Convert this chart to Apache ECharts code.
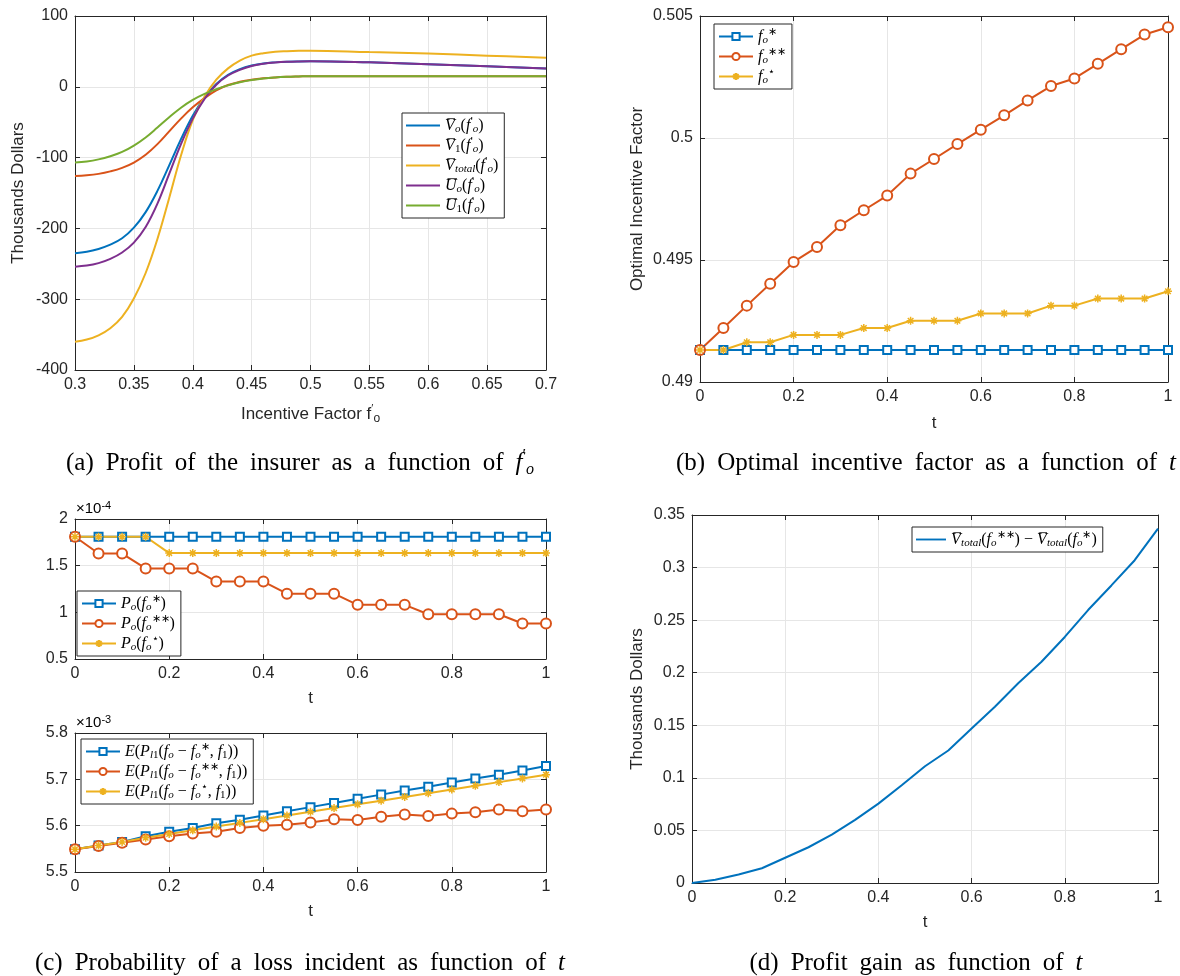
<!DOCTYPE html>
<html><head><meta charset="utf-8">
<script src="https://cdn.jsdelivr.net/npm/echarts@6/dist/echarts.min.js"></script>
<style>html,body{margin:0;padding:0;background:#fff}#c{width:1180px;height:976px}</style>
</head><body><div id="c"></div><script>
// ---------- DATA ----------
// (a) profit vs incentive factor f'_o (thousands of dollars)
const fPrime = [0.30,0.31,0.32,0.33,0.34,0.35,0.36,0.37,0.38,0.39,0.40,0.41,0.42,0.43,0.44,0.45,0.46,0.47,0.48,0.49,0.50,0.55,0.60,0.65,0.70];
const Vo     = [-235,-233,-229,-223,-214,-199,-177,-147,-111,-74,-41,-15,4,17,25,30,33,34.5,35.5,35.9,36,34.5,32,29,26];
const V1     = [-126,-125,-123,-119.5,-114.5,-107,-96,-81,-63,-45,-29,-16,-5,2.5,7,10,12,13.3,14.1,14.6,15,15,15,15,15];
const Vtotal = [-360,-357,-351,-341,-325,-299,-263,-215,-157,-97,-47,-14,10,26,37,44,47.5,49.5,50.3,50.8,51,49,47,44,41];
const Uo     = [-254,-252.5,-249,-243,-234,-220,-198,-165,-123,-81,-45,-17,3,16,24,29.5,32.5,34.3,35.3,35.8,36,34.5,32,29,26];
const U1     = [-107,-105.5,-102.5,-98,-92,-83,-71.5,-57.5,-43,-29.5,-18.5,-10,-3.5,2,6.5,9.5,11.8,13.2,14.1,14.6,15,15,15,15,15];
// shared t grid
const tVals = [0,0.05,0.1,0.15,0.2,0.25,0.3,0.35,0.4,0.45,0.5,0.55,0.6,0.65,0.7,0.75,0.8,0.85,0.9,0.95,1];
// (b) optimal incentive factor
const fStar     = [0.49131,0.49131,0.49131,0.49131,0.49131,0.49131,0.49131,0.49131,0.49131,0.49131,0.49131,0.49131,0.49131,0.49131,0.49131,0.49131,0.49131,0.49131,0.49131,0.49131,0.49131];
const fStarStar = [0.49131,0.49221,0.49313,0.49403,0.49492,0.49553,0.49642,0.49704,0.49764,0.49854,0.49914,0.49975,0.50034,0.50093,0.50154,0.50213,0.50244,0.50304,0.50364,0.50424,0.50454];
const fStarBig  = [0.49131,0.49131,0.49163,0.49163,0.49193,0.49193,0.49193,0.49221,0.49221,0.49251,0.49251,0.49251,0.49281,0.49281,0.49281,0.49313,0.49313,0.49342,0.49342,0.49342,0.49372];
// (c) top, in units of 1e-4
const PoStar     = [1.81,1.81,1.81,1.81,1.81,1.81,1.81,1.81,1.81,1.81,1.81,1.81,1.81,1.81,1.81,1.81,1.81,1.81,1.81,1.81,1.81];
const PoStarStar = [1.81,1.63,1.63,1.47,1.47,1.47,1.33,1.33,1.33,1.20,1.20,1.20,1.08,1.08,1.08,0.98,0.98,0.98,0.98,0.88,0.88];
const PoStarBig  = [1.81,1.81,1.81,1.81,1.635,1.635,1.635,1.635,1.635,1.635,1.635,1.635,1.635,1.635,1.635,1.635,1.635,1.635,1.635,1.635,1.635];
// (c) bottom, in units of 1e-3
const EStar     = [5.549,5.557,5.565,5.577,5.587,5.595,5.605,5.613,5.622,5.631,5.640,5.649,5.658,5.667,5.676,5.684,5.693,5.702,5.710,5.719,5.729];
const EStarStar = [5.549,5.556,5.563,5.570,5.577,5.583,5.587,5.595,5.600,5.602,5.607,5.614,5.612,5.619,5.624,5.621,5.626,5.629,5.635,5.631,5.635];
const EStarBig  = [5.549,5.557,5.565,5.574,5.582,5.590,5.598,5.606,5.614,5.622,5.630,5.638,5.646,5.654,5.662,5.670,5.678,5.686,5.694,5.702,5.710];
// (d) profit gain
const gain = [0,0.003,0.008,0.014,0.024,0.034,0.046,0.060,0.0755,0.093,0.111,0.126,0.147,0.1676,0.190,0.2104,0.234,0.2596,0.283,0.307,0.337];

// ---------- STYLE ----------
const C = ['#0072BD','#D95319','#EDB120','#7E2F8E','#77AC30'];
const AX = '#262626', GRIDC = '#e6e6e6';
const SANS = 'Liberation Sans, Arial, sans-serif', SERIF = 'Liberation Serif, Times New Roman, serif';
const STAR = 'path://M5,0L5,10M0,5L10,5M1.5,1.5L8.5,8.5M8.5,1.5L1.5,8.5';
const LINEICON = 'path://M0,0L32,0L32,2L0,2Z';

// overline image for V-bar / U-bar, drawn over the letter's box
const ov = document.createElement('canvas');
ov.width = 12; ov.height = 19;
(function(){ const x = ov.getContext('2d'); x.fillStyle = '#000'; x.fillRect(2.5, 0.6, 9.5, 1.2); })();

const grids = [
  {left:75, top:16, width:471, height:354},
  {left:700, top:16, width:468, height:366},
  {left:75, top:519, width:471, height:140},
  {left:75, top:733, width:471, height:139},
  {left:692, top:515, width:466, height:368}
].map(g => Object.assign({containLabel:false, outerBoundsMode:'none', show:false}, g));

const sansRich = {
  n:{fontFamily:SANS, fontSize:17, color:AX, lineHeight:22},
  p:{fontFamily:SANS, fontSize:11, color:AX, lineHeight:11, verticalAlign:'top'},
  b:{fontFamily:SANS, fontSize:12, color:AX, lineHeight:12, verticalAlign:'bottom'}
};
const mathRich = {
  i:{fontFamily:SERIF, fontStyle:'italic', fontSize:16, lineHeight:19, color:'#000'},
  v:{fontFamily:SERIF, fontStyle:'italic', fontSize:16, lineHeight:19, color:'#000', backgroundColor:{image:ov}},
  n:{fontFamily:SERIF, fontSize:16, lineHeight:19, color:'#000'},
  b:{fontFamily:SERIF, fontStyle:'italic', fontSize:11, lineHeight:10, verticalAlign:'bottom', color:'#000'},
  bn:{fontFamily:SERIF, fontSize:11, lineHeight:10, verticalAlign:'bottom', color:'#000'},
  p:{fontFamily:SERIF, fontSize:11, lineHeight:10, verticalAlign:'top', color:'#000'}
};

function xAxes(g, min, max, iv, name, gap) {
  return [{
    type:'value', gridIndex:g, min, max, interval:iv, position:'bottom',
    name: name || '', nameLocation:'middle', nameGap:gap || 30,
    nameTextStyle:{fontFamily:SANS, fontSize:17, color:AX, rich:sansRich},
    axisLine:{show:true, onZero:false, lineStyle:{color:AX, width:1}},
    axisTick:{show:true, inside:true, length:5, lineStyle:{color:AX}},
    axisLabel:{fontFamily:SANS, fontSize:16, color:AX, margin:7, showMinLabel:true, showMaxLabel:true},
    splitLine:{show:true, lineStyle:{color:GRIDC, width:1}}
  },{
    type:'value', gridIndex:g, min, max, interval:iv, position:'top',
    axisLine:{show:true, onZero:false, lineStyle:{color:AX, width:1}},
    axisTick:{show:true, inside:true, length:5, lineStyle:{color:AX}},
    axisLabel:{show:false}, splitLine:{show:false}
  }];
}
function yAxes(g, min, max, iv, name, gap) {
  return [{
    type:'value', gridIndex:g, min, max, interval:iv, position:'left',
    name: name || '', nameLocation:'middle', nameGap:gap || 40,
    nameTextStyle:{fontFamily:SANS, fontSize:17, color:AX},
    axisLine:{show:true, onZero:false, lineStyle:{color:AX, width:1}},
    axisTick:{show:true, inside:true, length:5, lineStyle:{color:AX}},
    axisLabel:{fontFamily:SANS, fontSize:16, color:AX, margin:7, showMinLabel:true, showMaxLabel:true},
    splitLine:{show:true, lineStyle:{color:GRIDC, width:1}}
  },{
    type:'value', gridIndex:g, min, max, interval:iv, position:'right',
    axisLine:{show:true, onZero:false, lineStyle:{color:AX, width:1}},
    axisTick:{show:true, inside:true, length:5, lineStyle:{color:AX}},
    axisLabel:{show:false}, splitLine:{show:false}
  }];
}

function ln(g, name, xs, ys, color, mk, extra) {
  const s = {
    type:'line', name, xAxisIndex:2*g, yAxisIndex:2*g,
    data: xs.map((x,i)=>[x, ys[i]]),
    lineStyle:{color, width:2}, itemStyle:{color},
    symbol:'none', showSymbol:false, animation:false, emphasis:{disabled:true}
  };
  if (mk === 'sq') { s.symbol='emptyRect'; s.symbolSize=8; s.showSymbol=true; s.itemStyle={color, borderWidth:1.5}; }
  if (mk === 'ci') { s.symbol='emptyCircle'; s.symbolSize=10; s.showSymbol=true; s.itemStyle={color, borderWidth:1.5}; }
  if (mk === 'st') { s.symbol=STAR; s.symbolSize=8; s.showSymbol=true; s.itemStyle={color, borderColor:color, borderWidth:1.5}; }
  return Object.assign(s, extra || {});
}

const LBL = {
  aVo: '{v|V}{b|o}{n|(}{i|f}{p|\u2032}{b|o}{n|)}',
  aV1: '{v|V}{bn|1}{n|(}{i|f}{p|\u2032}{b|o}{n|)}',
  aVt: '{v|V}{b|total}{n|(}{i|f}{p|\u2032}{b|o}{n|)}',
  aUo: '{v|U}{b|o}{n|(}{i|f}{p|\u2032}{b|o}{n|)}',
  aU1: '{v|U}{bn|1}{n|(}{i|f}{p|\u2032}{b|o}{n|)}',
  b1: '{i|f}{b|o}{p|\u2217}',
  b2: '{i|f}{b|o}{p|\u2217\u2217}',
  b3: '{i|f}{b|o}{p|\u22C6}',
  c1: '{i|P}{b|o}{n|(}{i|f}{b|o}{p|\u2217}{n|)}',
  c2: '{i|P}{b|o}{n|(}{i|f}{b|o}{p|\u2217\u2217}{n|)}',
  c3: '{i|P}{b|o}{n|(}{i|f}{b|o}{p|\u22C6}{n|)}',
  e1: '{i|E}{n|(}{i|P}{b|l}{bn|1}{n|(}{i|f}{b|o}{n| \u2212 }{i|f}{b|o}{p|\u2217}{n|, }{i|f}{bn|1}{n|))}',
  e2: '{i|E}{n|(}{i|P}{b|l}{bn|1}{n|(}{i|f}{b|o}{n| \u2212 }{i|f}{b|o}{p|\u2217\u2217}{n|, }{i|f}{bn|1}{n|))}',
  e3: '{i|E}{n|(}{i|P}{b|l}{bn|1}{n|(}{i|f}{b|o}{n| \u2212 }{i|f}{b|o}{p|\u22C6}{n|, }{i|f}{bn|1}{n|))}',
  d1: '{v|V}{b|total}{n|(}{i|f}{b|o}{p|\u2217\u2217}{n|) \u2212 }{v|V}{b|total}{n|(}{i|f}{b|o}{p|\u2217}{n|)}'
};

function legend(names, left, top, itemW, icon) {
  const l = {
    data:names, left, top, orient:'vertical', itemWidth:itemW || 32, itemHeight:9, itemGap:1,
    padding:[3,6,3,4], borderColor:AX, borderWidth:1, backgroundColor:'#fff',
    selectedMode:false, formatter: n => LBL[n],
    textStyle:{rich:mathRich}
  };
  if (icon) l.icon = icon;
  return l;
}

const xs = [].concat(
  xAxes(0, 0.3, 0.7, 0.05, '{n|Incentive Factor f}{p|\u2032}{b|o}', 33),
  xAxes(1, 0, 1, 0.2, 't', 33),
  xAxes(2, 0, 1, 0.2, 't', 31),
  xAxes(3, 0, 1, 0.2, 't', 31),
  xAxes(4, 0, 1, 0.2, 't', 31)
);
const ys = [].concat(
  yAxes(0, -400, 100, 100, 'Thousands Dollars', 48),
  yAxes(1, 0.49, 0.505, 0.005, 'Optimal Incentive Factor', 54),
  yAxes(2, 0.5, 2, 0.5),
  yAxes(3, 5.5, 5.8, 0.1),
  yAxes(4, 0, 0.35, 0.05, 'Thousands Dollars', 46)
);

const SM = {smooth:0.4};
const series = [
  ln(0,'aVo',fPrime,Vo,C[0],null,SM),
  ln(0,'aV1',fPrime,V1,C[1],null,SM),
  ln(0,'aVt',fPrime,Vtotal,C[2],null,SM),
  ln(0,'aUo',fPrime,Uo,C[3],null,SM),
  ln(0,'aU1',fPrime,U1,C[4],null,SM),
  ln(1,'b1',tVals,fStar,C[0],'sq'),
  ln(1,'b2',tVals,fStarStar,C[1],'ci'),
  ln(1,'b3',tVals,fStarBig,C[2],'st'),
  ln(2,'c1',tVals,PoStar,C[0],'sq'),
  ln(2,'c2',tVals,PoStarStar,C[1],'ci'),
  ln(2,'c3',tVals,PoStarBig,C[2],'st'),
  ln(3,'e1',tVals,EStar,C[0],'sq'),
  ln(3,'e2',tVals,EStarStar,C[1],'ci'),
  ln(3,'e3',tVals,EStarBig,C[2],'st'),
  ln(4,'d1',tVals,gain,C[0])
];

const CAPF = 25;
const capRich = {
  n:{fontFamily:SERIF, fontSize:CAPF, color:'#000', lineHeight:30},
  s:{fontFamily:SERIF, fontSize:CAPF, color:'#000', lineHeight:30, width:12},
  i:{fontFamily:SERIF, fontStyle:'italic', fontSize:CAPF, color:'#000', lineHeight:30},
  p:{fontFamily:SERIF, fontSize:16, color:'#000', lineHeight:16, verticalAlign:'top'},
  b:{fontFamily:SERIF, fontStyle:'italic', fontSize:16, color:'#000', lineHeight:16, verticalAlign:'bottom'}
};
function words(str) { return str.split(' ').map(w => '{n|' + w + '}').join('{s| }') + '{s| }'; }
function cap(x, y, text) {
  return {type:'text', x, y, silent:true,
    style:{text, rich:capRich, textAlign:'center', textVerticalAlign:'middle', align:'center', verticalAlign:'middle'}};
}
const expRich = {
  n:{fontFamily:SANS, fontSize:15, color:AX, lineHeight:18},
  p:{fontFamily:SANS, fontSize:11, color:AX, lineHeight:11, verticalAlign:'top'}
};
function expo(x, y, text) {
  return {type:'text', x, y, silent:true, style:{text, rich:expRich, textAlign:'left', textVerticalAlign:'middle', align:'left', verticalAlign:'middle'}};
}

const option = {
  animation:false,
  backgroundColor:'#fff',
  grid: grids,
  xAxis: xs,
  yAxis: ys,
  legend: [
    legend(['aVo','aV1','aVt','aUo','aU1'], 402, 113, 34, LINEICON),
    legend(['b1','b2','b3'], 714, 24, 34),
    legend(['c1','c2','c3'], 77, 591, 34),
    legend(['e1','e2','e3'], 81, 739, 34),
    legend(['d1'], 912, 527, 30, LINEICON)
  ],
  series,
  graphic: [
    cap(300, 463, words('(a) Profit of the insurer as a function of') + '{i|f}{p|\u2032}{b|o}'),
    cap(926, 463, words('(b) Optimal incentive factor as a function of') + '{i|t}'),
    cap(300, 963, words('(c) Probability of a loss incident as function of') + '{i|t}'),
    cap(916, 963, words('(d) Profit gain as function of') + '{i|t}'),
    expo(76, 509, '{n|\u00D710}{p|-4}'),
    expo(76, 723, '{n|\u00D710}{p|-3}')
  ]
};
const chart = echarts.init(document.getElementById('c'), null, {renderer:'canvas'});
chart.setOption(option);
</script></body></html>
